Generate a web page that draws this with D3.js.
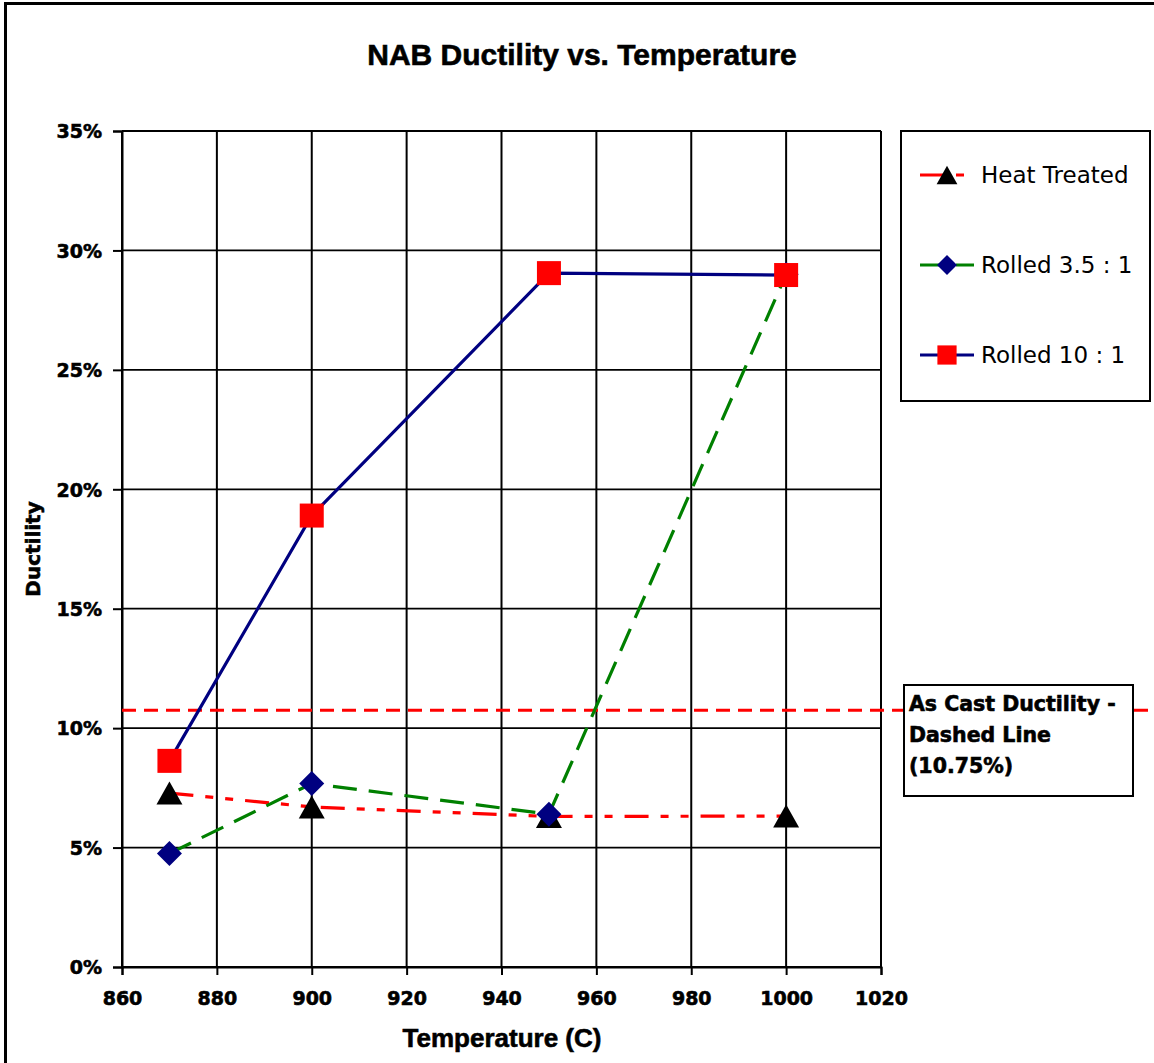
<!DOCTYPE html>
<html><head><meta charset="utf-8">
<script src="https://cdn.jsdelivr.net/npm/d3@7"></script>
<style>
html,body{margin:0;padding:0;background:#fff;}
svg{display:block;}
</style></head>
<body>
<svg id="chart" width="1154" height="1063"></svg>
<script>
// ---- data ----
const temperatures = [870, 900, 950, 1000];
const heatTreated = [0.0728, 0.0670, 0.0630, 0.0632];
const rolled35 = [0.0475, 0.0768, 0.0640, 0.2900];
const rolled10 = [0.0863, 0.1890, 0.2905, 0.2897];
const asCast = 0.1075;
const xTicks = [860, 880, 900, 920, 940, 960, 980, 1000, 1020];
const yTicks = [0, 0.05, 0.10, 0.15, 0.20, 0.25, 0.30, 0.35];
const seriesNames = ["Heat Treated", "Rolled 3.5 : 1", "Rolled 10 : 1"];
const titleText = "NAB Ductility vs. Temperature";
const xTitle = "Temperature (C)";
const yTitle = "Ductility";
const noteLines = ["As Cast Ductility -", "Dashed Line", "(10.75%)"];

const svg = d3.select("#chart");
const W = 1154, H = 1063;
const plot = {left: 122, right: 881, top: 131, bottom: 967};

svg.append("rect").attr("x",0).attr("y",0).attr("width",W).attr("height",H).attr("fill","#fff");
// outer border (right/bottom off-canvas as in reference)
svg.append("rect").attr("x",5.5).attr("y",3.5).attr("width",1170).attr("height",1080)
  .attr("fill","none").attr("stroke","#000").attr("stroke-width",3);

const x = d3.scaleLinear().domain([860, 1020]).range([plot.left, plot.right]);
const y = d3.scaleLinear().domain([0, 0.35]).range([plot.bottom, plot.top]);

// gridlines
const grid = svg.append("g");
grid.selectAll("line.h").data(yTicks).join("line")
  .attr("x1", plot.left).attr("x2", plot.right)
  .attr("y1", d => y(d)).attr("y2", d => y(d))
  .attr("stroke","#000").attr("stroke-width",1.8);
grid.selectAll("line.v").data(xTicks).join("line")
  .attr("y1", plot.top).attr("y2", plot.bottom)
  .attr("x1", d => x(d)).attr("x2", d => x(d))
  .attr("stroke","#000").attr("stroke-width",2);

const heavy = sel => sel.attr("stroke","#000").attr("stroke-width",0.6).attr("paint-order","stroke");

// axes
const yAxis = svg.append("g").attr("transform",`translate(${plot.left},0)`)
  .call(d3.axisLeft(y).tickValues(yTicks).tickFormat(d3.format(".0%")).tickSize(9).tickPadding(11));
const xAxis = svg.append("g").attr("transform",`translate(0,${plot.bottom})`)
  .call(d3.axisBottom(x).tickValues(xTicks).tickFormat(d3.format("d")).tickSize(8).tickPadding(16));
[yAxis, xAxis].forEach(a => {
  a.select(".domain").attr("stroke","#000").attr("stroke-width",2);
  a.selectAll(".tick line").attr("stroke","#000").attr("stroke-width",2);
  a.selectAll(".tick text").attr("fill","#000")
    .style("font-family","'DejaVu Sans', sans-serif").style("font-weight","bold").style("font-size","19px")
    .call(heavy);
});
yAxis.selectAll(".tick text").attr("dy","0.36em");
xAxis.selectAll(".tick text").attr("dy","0.72em");

// titles
svg.append("text").attr("x",582).attr("y",65).attr("text-anchor","middle")
  .style("font-family","'Liberation Sans', Arial, sans-serif").style("font-weight","bold")
  .style("font-size","30px").text(titleText).call(heavy);
svg.append("text").attr("x",502).attr("y",1047).attr("text-anchor","middle")
  .style("font-family","'Liberation Sans', Arial, sans-serif").style("font-weight","bold")
  .style("font-size","26px").text(xTitle).call(heavy);
svg.append("text").attr("transform",`translate(40,${(plot.top+plot.bottom)/2}) rotate(-90)`)
  .attr("text-anchor","middle")
  .style("font-family","'DejaVu Sans', sans-serif").style("font-weight","bold")
  .style("font-size","20px").text(yTitle).call(heavy);

// as-cast dashed reference line
svg.append("line").attr("x1", x(860)).attr("x2", 1150)
  .attr("y1", y(asCast)).attr("y2", y(asCast))
  .attr("stroke","#FF0000").attr("stroke-width",3).attr("stroke-dasharray","14 8");

// marker shapes
function triPath(cx, cy, w, h){ return `M${cx},${cy-h/2}L${cx+w/2},${cy+h/2}L${cx-w/2},${cy+h/2}Z`; }
function diaPath(cx, cy, r){ return `M${cx},${cy-r}L${cx+r},${cy}L${cx},${cy+r}L${cx-r},${cy}Z`; }

const pts = (vals) => temperatures.map((t,i) => [t, vals[i]]);
const line = d3.line().x(d => x(d[0])).y(d => y(d[1]));

const series = [
  {name: seriesNames[0], data: pts(heatTreated), stroke: "#FF0000", dash: "24 12 8 12 8 12", marker: "tri", fill: "#000"},
  {name: seriesNames[1], data: pts(rolled35), stroke: "#008000", dash: "24 12", marker: "dia", fill: "#000080"},
  {name: seriesNames[2], data: pts(rolled10), stroke: "#000080", dash: null, marker: "sq", fill: "#FF0000"}
];

function drawMarker(g, type, cx, cy, s, fill){
  if (type === "tri") g.append("path").attr("d", triPath(cx, cy, 26*s, 23*s)).attr("fill", fill);
  else if (type === "dia") g.append("path").attr("d", diaPath(cx, cy, 12.5*s)).attr("fill", fill);
  else g.append("rect").attr("x", cx-12*s).attr("y", cy-12*s).attr("width", 24*s).attr("height", 24*s).attr("fill", fill);
}

series.forEach(sr => {
  const g = svg.append("g");
  g.append("path").attr("d", line(sr.data)).attr("fill","none")
    .attr("stroke", sr.stroke).attr("stroke-width",3.2)
    .attr("stroke-dasharray", sr.dash);
  sr.data.forEach(d => drawMarker(g, sr.marker, x(d[0]), y(d[1]), 1, sr.fill));
});

// legend
const lg = svg.append("g");
lg.append("rect").attr("x",901).attr("y",131).attr("width",249).attr("height",270)
  .attr("fill","#fff").attr("stroke","#000").attr("stroke-width",2);
const legY = [175, 265, 355];
const legEnd = [964, 974, 974];
series.forEach((sr, i) => {
  lg.append("line").attr("x1",920).attr("x2",legEnd[i]).attr("y1",legY[i]).attr("y2",legY[i])
    .attr("stroke", sr.stroke).attr("stroke-width",3.2).attr("stroke-dasharray", sr.dash);
  drawMarker(lg, sr.marker, 947, legY[i], 0.8, sr.fill);
  lg.append("text").attr("x",981).attr("y",legY[i]).attr("dy","0.36em")
    .style("font-family","'DejaVu Sans', sans-serif").style("font-size","23px").text(sr.name);
});

// note box
const nb = svg.append("g");
nb.append("rect").attr("x",904).attr("y",685).attr("width",229).attr("height",111)
  .attr("fill","#fff").attr("stroke","#000").attr("stroke-width",2);
noteLines.forEach((t, i) => {
  nb.append("text").attr("x",909).attr("y",711 + i*31)
    .style("font-family","'DejaVu Sans', sans-serif").style("font-weight","bold")
    .style("font-size","20.5px").text(t).call(heavy);
});
</script>
</body></html>
